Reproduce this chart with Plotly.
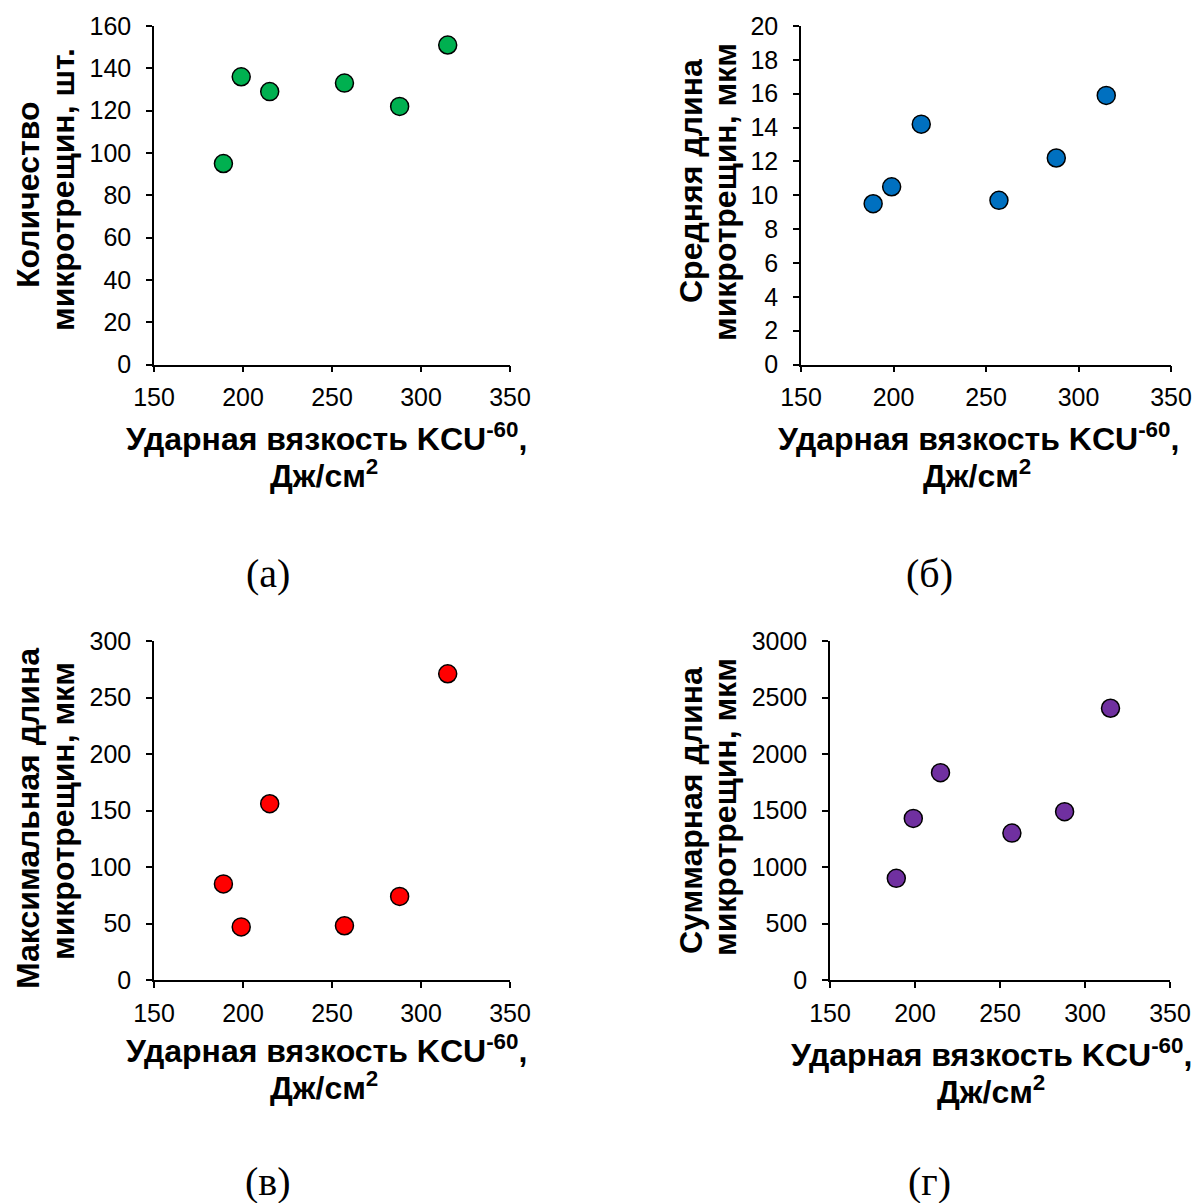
import plotly.graph_objects as go

# ---- data ----
kcu = [189, 199, 215, 257, 288, 315]
count_cracks = [95, 136, 129, 133, 122, 151]
mean_length = [9.5, 10.5, 14.2, 9.7, 12.2, 15.9]
max_length = [85, 47, 156, 48, 74, 271]
total_length = [900, 1430, 1835, 1300, 1490, 2405]

y_titles = [
    ["Количество", "микротрещин, шт."],
    ["Средняя длина", "микротрещин, мкм"],
    ["Максимальная длина", "микротрещин, мкм"],
    ["Суммарная длина", "микротрещин, мкм"],
]
x_title_lines = ["Ударная вязкость KCU<sup>-60</sup>,", "Дж/см<sup>2</sup>"]
panel_labels = ["(а)", "(б)", "(в)", "(г)"]
y_ranges = [[0, 160], [0, 20], [0, 300], [0, 3000]]
y_dticks = [20, 2, 50, 500]
colors = ["#00B050", "#0070C0", "#FF0000", "#7030A0"]
series = [count_cracks, mean_length, max_length, total_length]

# ---- layout (pixels) ----
W, H = 1197, 1203
# plot areas: (x0, x1, ytop, ybottom)
areas = [
    (154, 510, 26, 364.5),
    (801, 1171, 26, 364.5),
    (154, 510, 641, 980),
    (830, 1170, 641, 980),
]
# y-title lines: (x, center y) for each line
ytitle_pos = [
    ((28, 195), (63, 190)),
    ((691, 181), (725, 192)),
    ((28, 819), (63, 811)),
    ((691, 811), (725, 807)),
]
# x-title lines: (center x, y) for each line
xtitle_pos = [
    ((326, 437), (324, 474)),
    ((978, 437), (977, 474)),
    ((326, 1049), (324, 1086)),
    ((991, 1053), (991, 1090)),
]
label_pos = [(268, 573), (929, 573), (268, 1181), (929, 1181)]

def px(x):
    return x / W

def py(y):
    return 1 - y / H

FONT = "Liberation Sans, Arial, sans-serif"
TITLE_SIZE = 32

fig = go.Figure()
annotations = []
for i in range(4):
    n = "" if i == 0 else str(i + 1)
    fig.add_trace(go.Scatter(
        x=kcu, y=series[i], mode="markers",
        marker=dict(size=18, color=colors[i], line=dict(color="black", width=1.5)),
        xaxis="x" + n, yaxis="y" + n, showlegend=False,
    ))
    x0, x1, yt, yb = areas[i]
    axis_common = dict(
        showgrid=False, zeroline=False, showline=True, linecolor="black", linewidth=1.5,
        ticks="outside", ticklen=6, tickwidth=1.5, tickcolor="black", automargin=False,
        ticklabeloverflow="allow",
        tickfont=dict(family=FONT, size=25, color="black"),
    )
    fig.update_layout(**{
        "xaxis" + n: dict(domain=[px(x0), px(x1)], anchor="y" + n, range=[150, 350],
                          dtick=50, tick0=150, ticklabelstandoff=4, **axis_common),
        "yaxis" + n: dict(domain=[py(yb), py(yt)], anchor="x" + n, range=y_ranges[i],
                          dtick=y_dticks[i], tick0=0, ticklabelstandoff=10, **axis_common),
    })
    for (lx, cy), txt in zip(ytitle_pos[i], y_titles[i]):
        annotations.append(dict(
            x=px(lx), y=py(cy), xref="paper", yref="paper", text="<b>" + txt + "</b>",
            textangle=-90, showarrow=False, xanchor="center", yanchor="middle",
            font=dict(family=FONT, size=TITLE_SIZE, color="black"),
        ))
    for (cx, ly), txt in zip(xtitle_pos[i], x_title_lines):
        annotations.append(dict(
            x=px(cx), y=py(ly), xref="paper", yref="paper", text="<b>" + txt + "</b>",
            showarrow=False, xanchor="center", yanchor="middle",
            font=dict(family=FONT, size=TITLE_SIZE, color="black"),
        ))
    lx, ly = label_pos[i]
    annotations.append(dict(
        x=px(lx), y=py(ly), xref="paper", yref="paper", text=panel_labels[i],
        showarrow=False, xanchor="center", yanchor="middle",
        font=dict(family="Liberation Serif, Times New Roman, serif", size=40, color="black"),
    ))

fig.update_layout(
    width=W, height=H, margin=dict(l=0, r=0, t=0, b=0, autoexpand=False),
    paper_bgcolor="white", plot_bgcolor="white",
    annotations=annotations,
)
# remove the default page margin so the figure fills the window exactly
fig.write_html(
    "out.html",
    config={"displayModeBar": False},
    post_script="document.body.style.margin='0';document.body.style.overflow='hidden';",
)
